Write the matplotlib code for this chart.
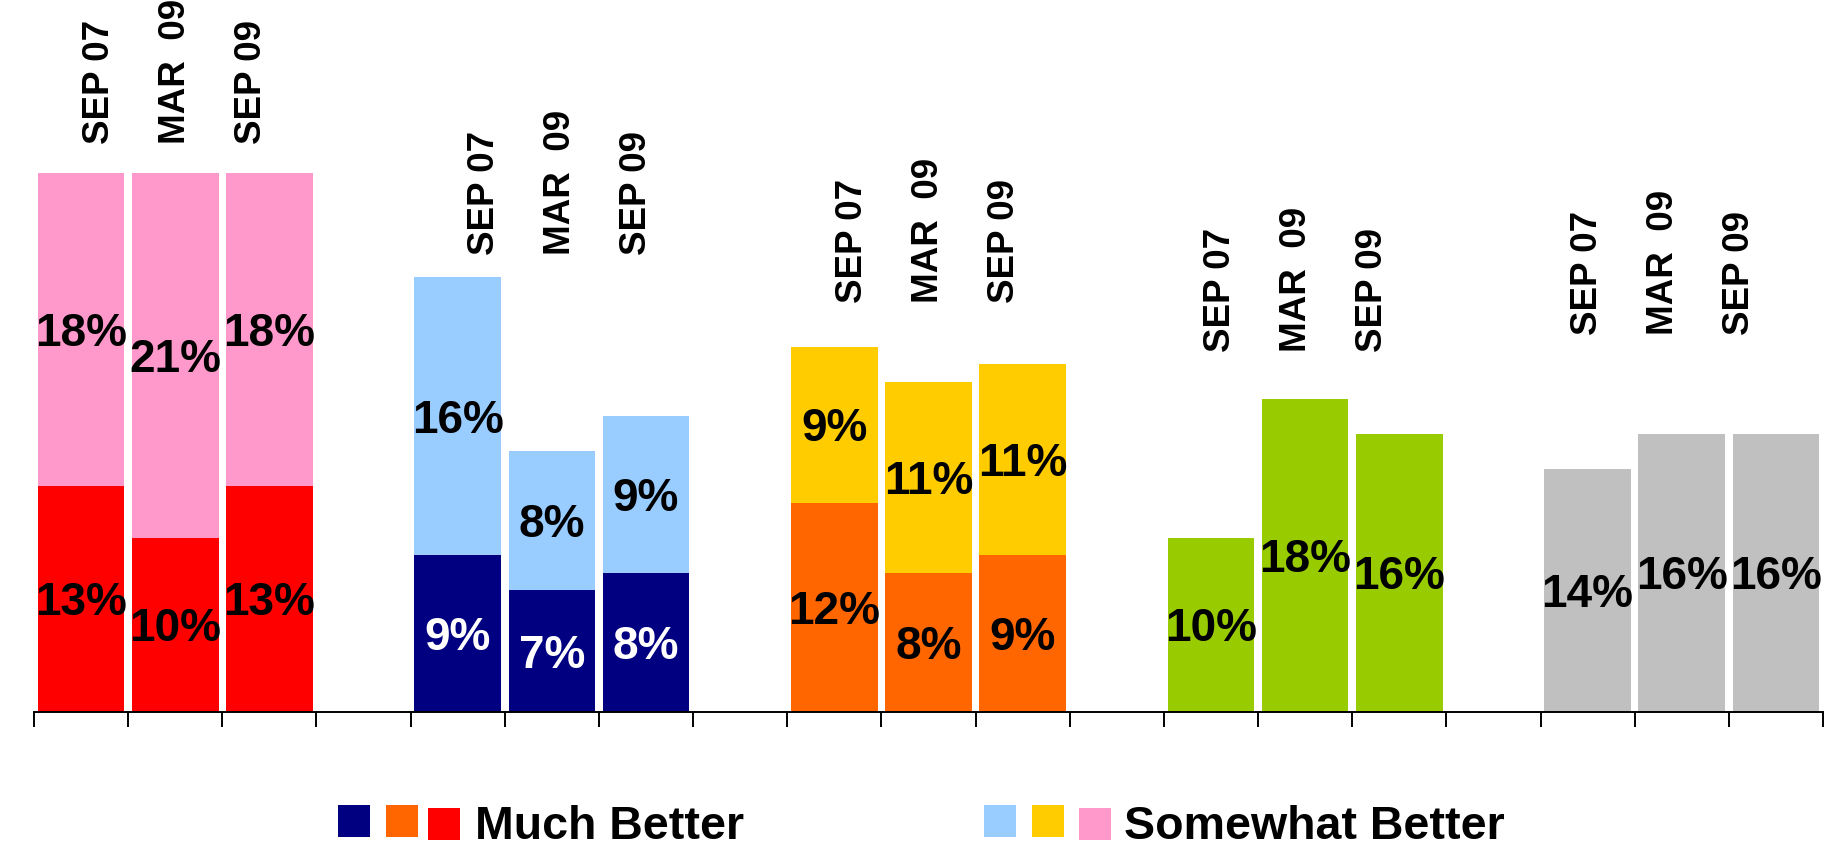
import numpy as np
import matplotlib
matplotlib.use("Agg")
import matplotlib.pyplot as plt
from matplotlib.patches import Rectangle

plt.rcParams["font.family"] = ["Liberation Sans", "DejaVu Sans"]
plt.rcParams["font.weight"] = "bold"

# data
periods = ["SEP 07", "MAR  09", "SEP 09"]
much_better = [[13, 10, 13], [9, 7, 8], [12, 8, 9], [10, 18, 16], [14, 16, 16]]
somewhat_better = [[18, 21, 18], [16, 8, 9], [9, 11, 11], None, None]

low_colors = ["#FF0000", "#000080", "#FF6600", "#99CC00", "#C0C0C0"]
high_colors = ["#FF99CC", "#99CCFF", "#FFCC00", None, None]
low_text = ["black", "white", "black", "black", "black"]

legend_labels = ["Much Better", "Somewhat Better"]

# layout
W, H = 1829, 846
slots_per_group = 4
bar_width = 0.92
label_gap = [1.66, 1.28, 2.52, 2.70, 5.68]
label_shift = [0.0, 0.09, 0.0, -0.09, -0.19]
label_step = 0.807
pct_size = 33
cap_drop = -0.716 * pct_size / 2  # centre the digits on the segment


def pct_label(ax, x, y, txt, color):
    ax.annotate(txt, (x, y), xytext=(0, cap_drop), textcoords="offset points",
                ha="center", va="baseline", fontsize=pct_size, color=color,
                fontweight="bold")


fig = plt.figure(figsize=(W / 100, H / 100), dpi=100)
ax = fig.add_axes([34 / W, (H - 712) / H, (1823 - 34) / W, 712 / H])

n_slots = slots_per_group * len(much_better) - 1
for g, lows in enumerate(much_better):
    xs = np.arange(3) + g * slots_per_group
    ax.bar(xs, lows, width=bar_width, color=low_colors[g], linewidth=0)
    tops = np.array(lows, dtype=float)
    for x, v in zip(xs, lows):
        pct_label(ax, x, v / 2, f"{v}%", low_text[g])
    highs = somewhat_better[g]
    if highs is not None:
        ax.bar(xs, highs, bottom=lows, width=bar_width, color=high_colors[g], linewidth=0)
        for x, lo, hi in zip(xs, lows, highs):
            pct_label(ax, x, lo + hi / 2, f"{hi}%", "black")
        tops = tops + np.array(highs)
    y_lab = tops.max() + label_gap[g]
    mid = g * slots_per_group + 1 + label_shift[g]
    for i, p in enumerate(periods):
        ax.text(mid + (i - 1) * label_step, y_lab, p, rotation=90, ha="center",
                va="bottom", fontsize=26.5, fontweight="bold")

ax.set_xlim(-0.5, n_slots - 0.5)
ax.set_ylim(0, 712 / 17.39)
ax.set_xticks(np.arange(-0.5, n_slots, 1.0))
ax.set_xticklabels([])
ax.set_yticks([])
ax.tick_params(axis="x", direction="out", length=10.8, width=1.4, color="black")
for s in ["top", "left", "right"]:
    ax.spines[s].set_visible(False)
ax.spines["bottom"].set_linewidth(1.4)

# legend drawn by hand
sq = 32
legend_sets = [
    ([low_colors[1], low_colors[2], low_colors[0]], [338, 386, 428], 475),
    ([high_colors[1], high_colors[2], high_colors[0]], [984, 1032, 1079], 1124),
]
for (cols, xs, tx), lab in zip(legend_sets, legend_labels):
    for k, (c, x) in enumerate(zip(cols, xs)):
        top_px = 808 if k == 2 else 805
        fig.add_artist(Rectangle((x / W, (H - top_px - sq) / H), sq / W, sq / H,
                                 transform=fig.transFigure, color=c, linewidth=0))
    fig.text(tx / W, (H - 839) / H, lab, ha="left", va="baseline",
             fontsize=33.5, fontweight="bold")

fig.savefig("out.png", dpi=100)
